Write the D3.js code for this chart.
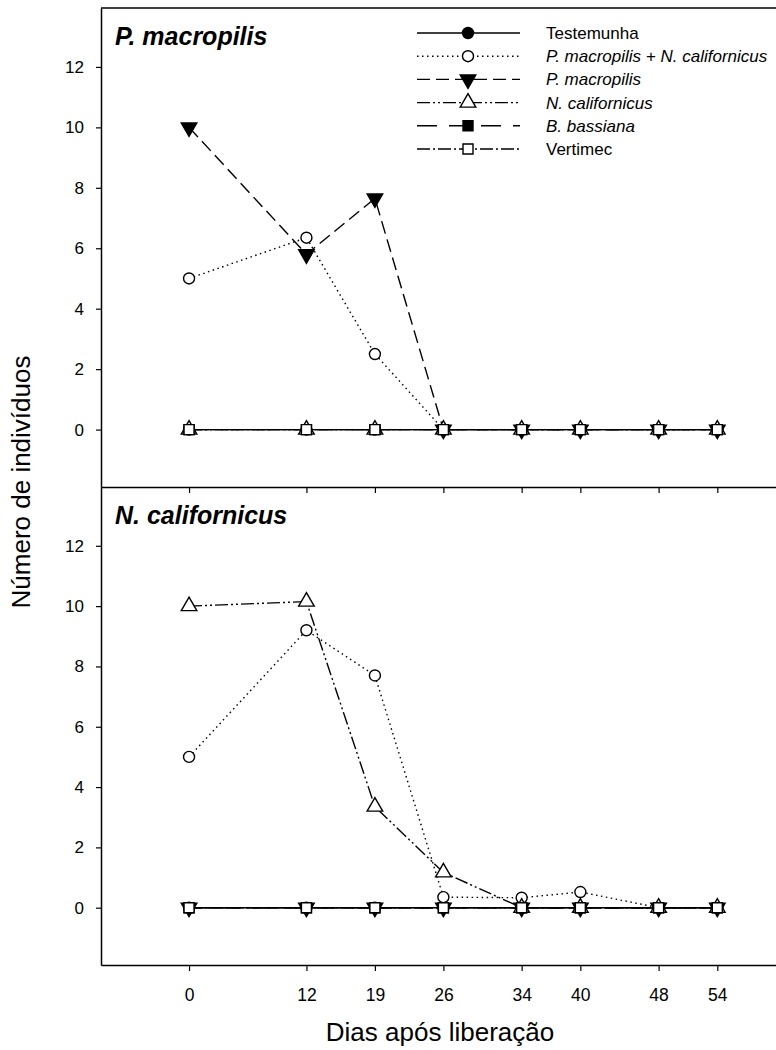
<!DOCTYPE html>
<html>
<head>
<meta charset="utf-8">
<script src="https://cdn.jsdelivr.net/npm/d3@7"></script>
<style>
    body { margin: 0; background: white; }
    text { font-family: "Liberation Sans", Arial, sans-serif; }
</style>
</head>
<body>
<script>
// data
const days = [0, 12, 19, 26, 34, 40, 48, 54];
const seriesNames = ["Testemunha", "P. macropilis + N. californicus", "P. macropilis", "N. californicus", "B. bassiana", "Vertimec"];
const yTicks = [0, 2, 4, 6, 8, 10, 12];
const panelTitles = ["P. macropilis", "N. californicus"];

// panel 1 (P. macropilis)
const top_testemunha = [0, 0, 0, 0, 0, 0, 0, 0];
const top_pmnc       = [5, 6.35, 2.5, 0, 0, 0, 0, 0];
const top_pm         = [10, 5.8, 7.65, 0, 0, 0, 0, 0];
const top_nc         = [0, 0, 0, 0, 0, 0, 0, 0];
const top_bb         = [0, 0, 0, 0, 0, 0, 0, 0];
const top_vert       = [0, 0, 0, 0, 0, 0, 0, 0];

// panel 2 (N. californicus)
const bot_testemunha = [0, 0, 0, 0, 0, 0, 0, 0];
const bot_pmnc       = [5, 9.2, 7.7, 0.35, 0.33, 0.52, 0, 0];
const bot_pm         = [0, 0, 0, 0, 0, 0, 0, 0];
const bot_nc         = [10, 10.15, 3.35, 1.17, 0, 0, 0, 0];
const bot_bb         = [0, 0, 0, 0, 0, 0, 0, 0];
const bot_vert       = [0, 0, 0, 0, 0, 0, 0, 0];

const W = 776, H = 1050;

const svg = d3.select("body")
    .append("svg")
    .attr("width", W)
    .attr("height", H)
    .style("background-color", "white");

// line / marker styles per series (same order as seriesNames)
const styles = [
    { dash: null,               symbol: d3.symbolCircle,   size: 95, fill: "black", rot: 0 },
    { dash: "1.5,3.5",          symbol: d3.symbolCircle,   size: 95, fill: "white", rot: 0 },
    { dash: "13,6",             symbol: d3.symbolTriangle, size: 105, fill: "black", rot: 180 },
    { dash: "13,3,2,3,2,3",     symbol: d3.symbolTriangle, size: 105, fill: "white", rot: 0 },
    { dash: "20,12",            symbol: d3.symbolSquare,   size: 100, fill: "black", rot: 0 },
    { dash: "13,3,2,3",         symbol: d3.symbolSquare,   size: 100, fill: "white", rot: 0 }
];

const panels = [
    { top: 8,   bottom: 487, series: [top_testemunha, top_pmnc, top_pm, top_nc, top_bb, top_vert] },
    { top: 487, bottom: 965, series: [bot_testemunha, bot_pmnc, bot_pm, bot_nc, bot_bb, bot_vert] }
];

const x = d3.scaleLinear().domain([-9, 60]).range([101, 776]);

panels.forEach((p, pi) => {
    const y = d3.scaleLinear().domain([-1.9, 13.95]).range([p.bottom, p.top]);

    // y axis
    const ga = svg.append("g")
        .attr("transform", `translate(101,0)`)
        .call(d3.axisLeft(y).tickValues(yTicks).tickSize(5).tickPadding(12).tickSizeOuter(0));
    ga.select(".domain").attr("stroke-width", 1.5);
    ga.selectAll(".tick line").attr("stroke-width", 1.2);
    ga.selectAll("text").attr("font-size", "17px").attr("fill", "black")
        .style("font-family", "'Liberation Sans', Arial, sans-serif");

    // x axis at the bottom of the panel
    const gx = svg.append("g")
        .attr("transform", `translate(0,${p.bottom})`)
        .call(d3.axisBottom(x).tickValues(days).tickSize(6).tickPadding(pi === 1 ? 18 : 0).tickSizeOuter(0));
    gx.select(".domain").attr("stroke-width", 1.5);
    gx.selectAll(".tick line").attr("stroke-width", 1.2);
    gx.selectAll("text").attr("font-size", "17.5px").attr("fill", "black")
        .style("font-family", "'Liberation Sans', Arial, sans-serif");
    if (pi === 0) gx.selectAll("text").remove();

    // panel title
    svg.append("text")
        .attr("x", 115)
        .attr("y", p.top + 37)
        .text(panelTitles[pi])
        .attr("font-size", "25px")
        .attr("font-weight", "bold")
        .attr("font-style", "italic");

    const line = d3.line()
        .x((d, i) => x(days[i]))
        .y(d => y(d));

    p.series.forEach((vals, si) => {
        const st = styles[si];
        svg.append("path")
            .attr("d", line(vals))
            .attr("fill", "none")
            .attr("stroke", "black")
            .attr("stroke-width", 1.4)
            .attr("stroke-dasharray", st.dash);
    });

    p.series.forEach((vals, si) => {
        const st = styles[si];
        svg.selectAll(null)
            .data(vals)
            .enter()
            .append("path")
            .attr("d", d3.symbol().type(st.symbol).size(st.size))
            .attr("transform", (d, i) => `translate(${x(days[i])},${y(d)}) rotate(${st.rot})`)
            .attr("fill", st.fill)
            .attr("stroke", "black")
            .attr("stroke-width", 1.4);
    });
});

// top frame line
svg.append("line")
    .attr("x1", 101).attr("x2", W)
    .attr("y1", 8).attr("y2", 8)
    .attr("stroke", "black")
    .attr("stroke-width", 1.5);

// legend
const legY = d3.scalePoint().domain(seriesNames).range([33, 149]);
const lg = svg.append("g");
seriesNames.forEach((name, i) => {
    const st = styles[i];
    const yy = legY(name);
    lg.append("line")
        .attr("x1", 417).attr("x2", 520)
        .attr("y1", yy).attr("y2", yy)
        .attr("stroke", "black")
        .attr("stroke-width", 1.4)
        .attr("stroke-dasharray", st.dash);
    lg.append("path")
        .attr("d", d3.symbol().type(st.symbol).size(st.size))
        .attr("transform", `translate(468,${yy}) rotate(${st.rot})`)
        .attr("fill", st.fill)
        .attr("stroke", "black")
        .attr("stroke-width", 1.4);
    lg.append("text")
        .attr("x", 546)
        .attr("y", yy + 6)
        .text(name)
        .attr("font-size", "17px")
        .attr("font-style", i >= 1 && i <= 4 ? "italic" : "normal");
});

// axis titles
svg.append("text")
    .attr("x", 440)
    .attr("y", 1041)
    .attr("text-anchor", "middle")
    .text("Dias após liberação")
    .attr("font-size", "26px");

svg.append("text")
    .attr("transform", `rotate(-90 30 482)`)
    .attr("x", 30)
    .attr("y", 482)
    .attr("text-anchor", "middle")
    .text("Número de indivíduos")
    .attr("font-size", "26px");
</script>
</body>
</html>
